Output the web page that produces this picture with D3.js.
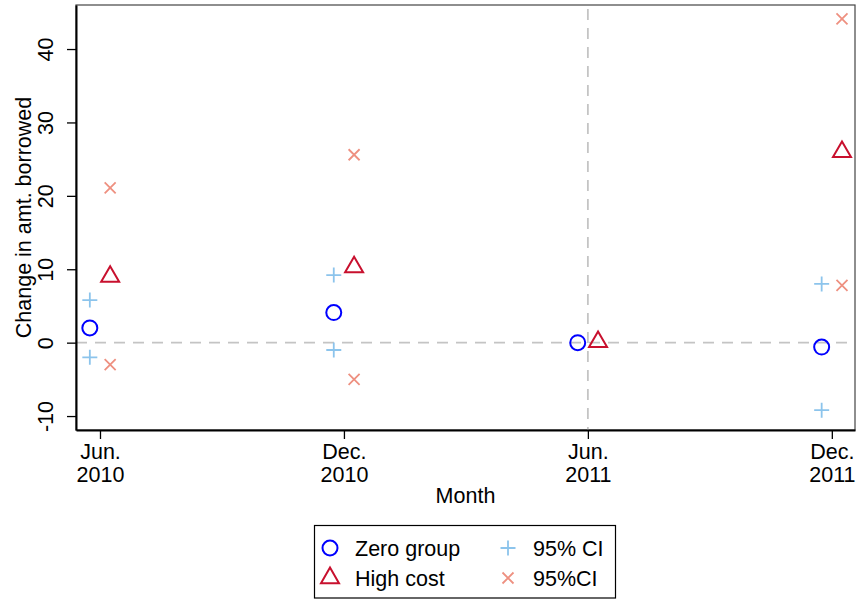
<!DOCTYPE html>
<html>
<head>
<meta charset="utf-8">
<script src="https://cdn.jsdelivr.net/npm/d3@7"></script>
<style>
  body { margin: 0; background: #fff; }
  svg { display: block; }
  svg text { font-family: "Liberation Sans", Arial, sans-serif; }
</style>
</head>
<body>
<div id="chart"></div>
<script>
// months since Jun. 2010
const tickMonths = [0, 6, 12, 18];
const tickLines1 = ["Jun.", "Dec.", "Jun.", "Dec."];
const tickLines2 = ["2010", "2010", "2011", "2011"];
const yTicks = [-10, 0, 10, 20, 30, 40];

const zeroGroup = [2.0, 4.1, 0, -0.6];
const zeroUpper = [5.8, 9.2, null, 8.0];
const zeroLower = [-2.0, -1.0, null, -9.2];

const highCost = [9.0, 10.3, 0.1, 26.0];
const highUpper = [21.1, 25.6, null, 44.1];
const highLower = [-3.0, -5.0, null, 7.8];

const legendLabels = ["Zero group", "High cost", "95% CI", "95%CI"];

(function () {
  'use strict';

  const width = 858, height = 599;
  const margin = { left: 76, top: 5, right: 3, bottom: 169 };
  const fs = 21.5;

  const svg = d3.select('#chart').append('svg')
    .attr('width', width)
    .attr('height', height);

  const x = d3.scaleLinear().domain([-0.59, 18.57]).range([margin.left, width - margin.right]);
  const y = d3.scaleLinear().domain([-11.9, 46]).range([height - margin.bottom, margin.top]);

  const blue = '#0000ff', red = '#c8102e', ltblue = '#8cc4ec', salmon = '#ee9080';
  const offset = 0.25;

  // plot frame
  svg.append('rect')
    .attr('x', x.range()[0]).attr('y', y.range()[1])
    .attr('width', x.range()[1] - x.range()[0])
    .attr('height', y.range()[0] - y.range()[1])
    .attr('fill', 'none').attr('stroke', '#444').attr('stroke-width', 1.2);

  // reference lines
  svg.append('line')
    .attr('x1', x.range()[0]).attr('x2', x.range()[1])
    .attr('y1', y(0)).attr('y2', y(0))
    .attr('stroke', '#c4c4c4').attr('stroke-width', 1.8).attr('stroke-dasharray', '11,8');
  svg.append('line')
    .attr('x1', x(12)).attr('x2', x(12))
    .attr('y1', y.range()[1] + 4).attr('y2', y.range()[0])
    .attr('stroke', '#c4c4c4').attr('stroke-width', 1.8).attr('stroke-dasharray', '11,8');

  // y axis
  const yAxis = svg.append('g')
    .attr('transform', `translate(${margin.left},0)`)
    .call(d3.axisLeft(y).tickValues(yTicks).tickSize(9).tickSizeOuter(0).tickFormat(d => String(d)));
  yAxis.attr('font-family', null).attr('font-size', null);
  yAxis.select('.domain').attr('stroke', '#000').attr('stroke-width', 2);
  yAxis.selectAll('.tick line').attr('stroke', '#000').attr('stroke-width', 1.3);
  yAxis.selectAll('.tick text')
    .attr('font-size', fs).attr('fill', '#000')
    .attr('x', null).attr('dy', null)
    .attr('text-anchor', 'middle')
    .attr('transform', 'translate(-23,0) rotate(-90)');

  // x axis
  const xAxis = svg.append('g')
    .attr('transform', `translate(0,${y.range()[0]})`)
    .call(d3.axisBottom(x).tickValues(tickMonths).tickSize(9).tickSizeOuter(0).tickFormat(''));
  xAxis.attr('font-family', null).attr('font-size', null);
  xAxis.select('.domain').attr('stroke', '#000').attr('stroke-width', 2);
  xAxis.selectAll('.tick line').attr('stroke', '#000').attr('stroke-width', 1.3);
  xAxis.selectAll('.tick').each(function (d, i) {
    const t = d3.select(this).append('text')
      .attr('fill', '#000').attr('font-size', fs).attr('text-anchor', 'middle');
    t.append('tspan').attr('x', 0).attr('y', 29).text(tickLines1[i]);
    t.append('tspan').attr('x', 0).attr('y', 52).text(tickLines2[i]);
  });

  // axis titles
  svg.append('text')
    .attr('transform', `translate(31,${(y.range()[0] + y.range()[1]) / 2}) rotate(-90)`)
    .attr('text-anchor', 'middle').attr('font-size', fs).text('Change in amt. borrowed');
  svg.append('text')
    .attr('x', (x.range()[0] + x.range()[1]) / 2).attr('y', 503)
    .attr('text-anchor', 'middle').attr('font-size', fs).text('Month');

  // marker shapes
  const plusPath = s => `M${-s},0H${s}M0,${-s}V${s}`;
  const xPath = s => `M${-s},${-s}L${s},${s}M${-s},${s}L${s},${-s}`;
  const triPath = s => {
    const h = s * Math.sqrt(3) / 2;
    return `M0,${-2 * h / 3}L${s / 2},${h / 3}L${-s / 2},${h / 3}Z`;
  };

  const g = svg.append('g');

  const pts = (vals, dx) => vals.map((v, i) => ({ m: tickMonths[i] + dx, v })).filter(d => d.v !== null);

  // CI markers
  g.selectAll('.ciz')
    .data(pts(zeroUpper, -offset).concat(pts(zeroLower, -offset)))
    .join('path')
    .attr('d', plusPath(7.5))
    .attr('transform', d => `translate(${x(d.m)},${y(d.v)})`)
    .attr('stroke', ltblue).attr('stroke-width', 1.8).attr('fill', 'none');
  g.selectAll('.cih')
    .data(pts(highUpper, offset).concat(pts(highLower, offset)))
    .join('path')
    .attr('d', xPath(5.5))
    .attr('transform', d => `translate(${x(d.m)},${y(d.v)})`)
    .attr('stroke', salmon).attr('stroke-width', 1.8).attr('fill', 'none');

  // point estimates
  g.selectAll('.zero')
    .data(pts(zeroGroup, -offset))
    .join('circle')
    .attr('cx', d => x(d.m)).attr('cy', d => y(d.v)).attr('r', 7.5)
    .attr('fill', 'none').attr('stroke', blue).attr('stroke-width', 2);
  g.selectAll('.high')
    .data(pts(highCost, offset))
    .join('path')
    .attr('d', triPath(18))
    .attr('transform', d => `translate(${x(d.m)},${y(d.v)})`)
    .attr('fill', 'none').attr('stroke', red).attr('stroke-width', 2);

  // legend
  const lg = svg.append('g');
  lg.append('rect')
    .attr('x', 314.5).attr('y', 525.5).attr('width', 301).attr('height', 72.5)
    .attr('fill', '#fff').attr('stroke', '#000').attr('stroke-width', 1.2);
  const items = [
    { label: legendLabels[0], cx: 330, cy: 548, kind: 'circle' },
    { label: legendLabels[1], cx: 330, cy: 578, kind: 'tri' },
    { label: legendLabels[2], cx: 508, cy: 548, kind: 'plus' },
    { label: legendLabels[3], cx: 508, cy: 578, kind: 'x' }
  ];
  items.forEach(it => {
    const sg = lg.append('g').attr('transform', `translate(${it.cx},${it.cy})`);
    if (it.kind === 'circle') {
      sg.append('circle').attr('r', 7.5).attr('fill', 'none').attr('stroke', blue).attr('stroke-width', 2);
    } else if (it.kind === 'tri') {
      sg.append('path').attr('d', triPath(18)).attr('fill', 'none').attr('stroke', red).attr('stroke-width', 2);
    } else if (it.kind === 'plus') {
      sg.append('path').attr('d', plusPath(7.5)).attr('fill', 'none').attr('stroke', ltblue).attr('stroke-width', 1.8);
    } else {
      sg.append('path').attr('d', xPath(5.5)).attr('fill', 'none').attr('stroke', salmon).attr('stroke-width', 1.8);
    }
    lg.append('text')
      .attr('x', it.cx + 25).attr('y', it.cy + 7.5)
      .attr('font-size', fs).text(it.label);
  });
})();
</script>
</body>
</html>
